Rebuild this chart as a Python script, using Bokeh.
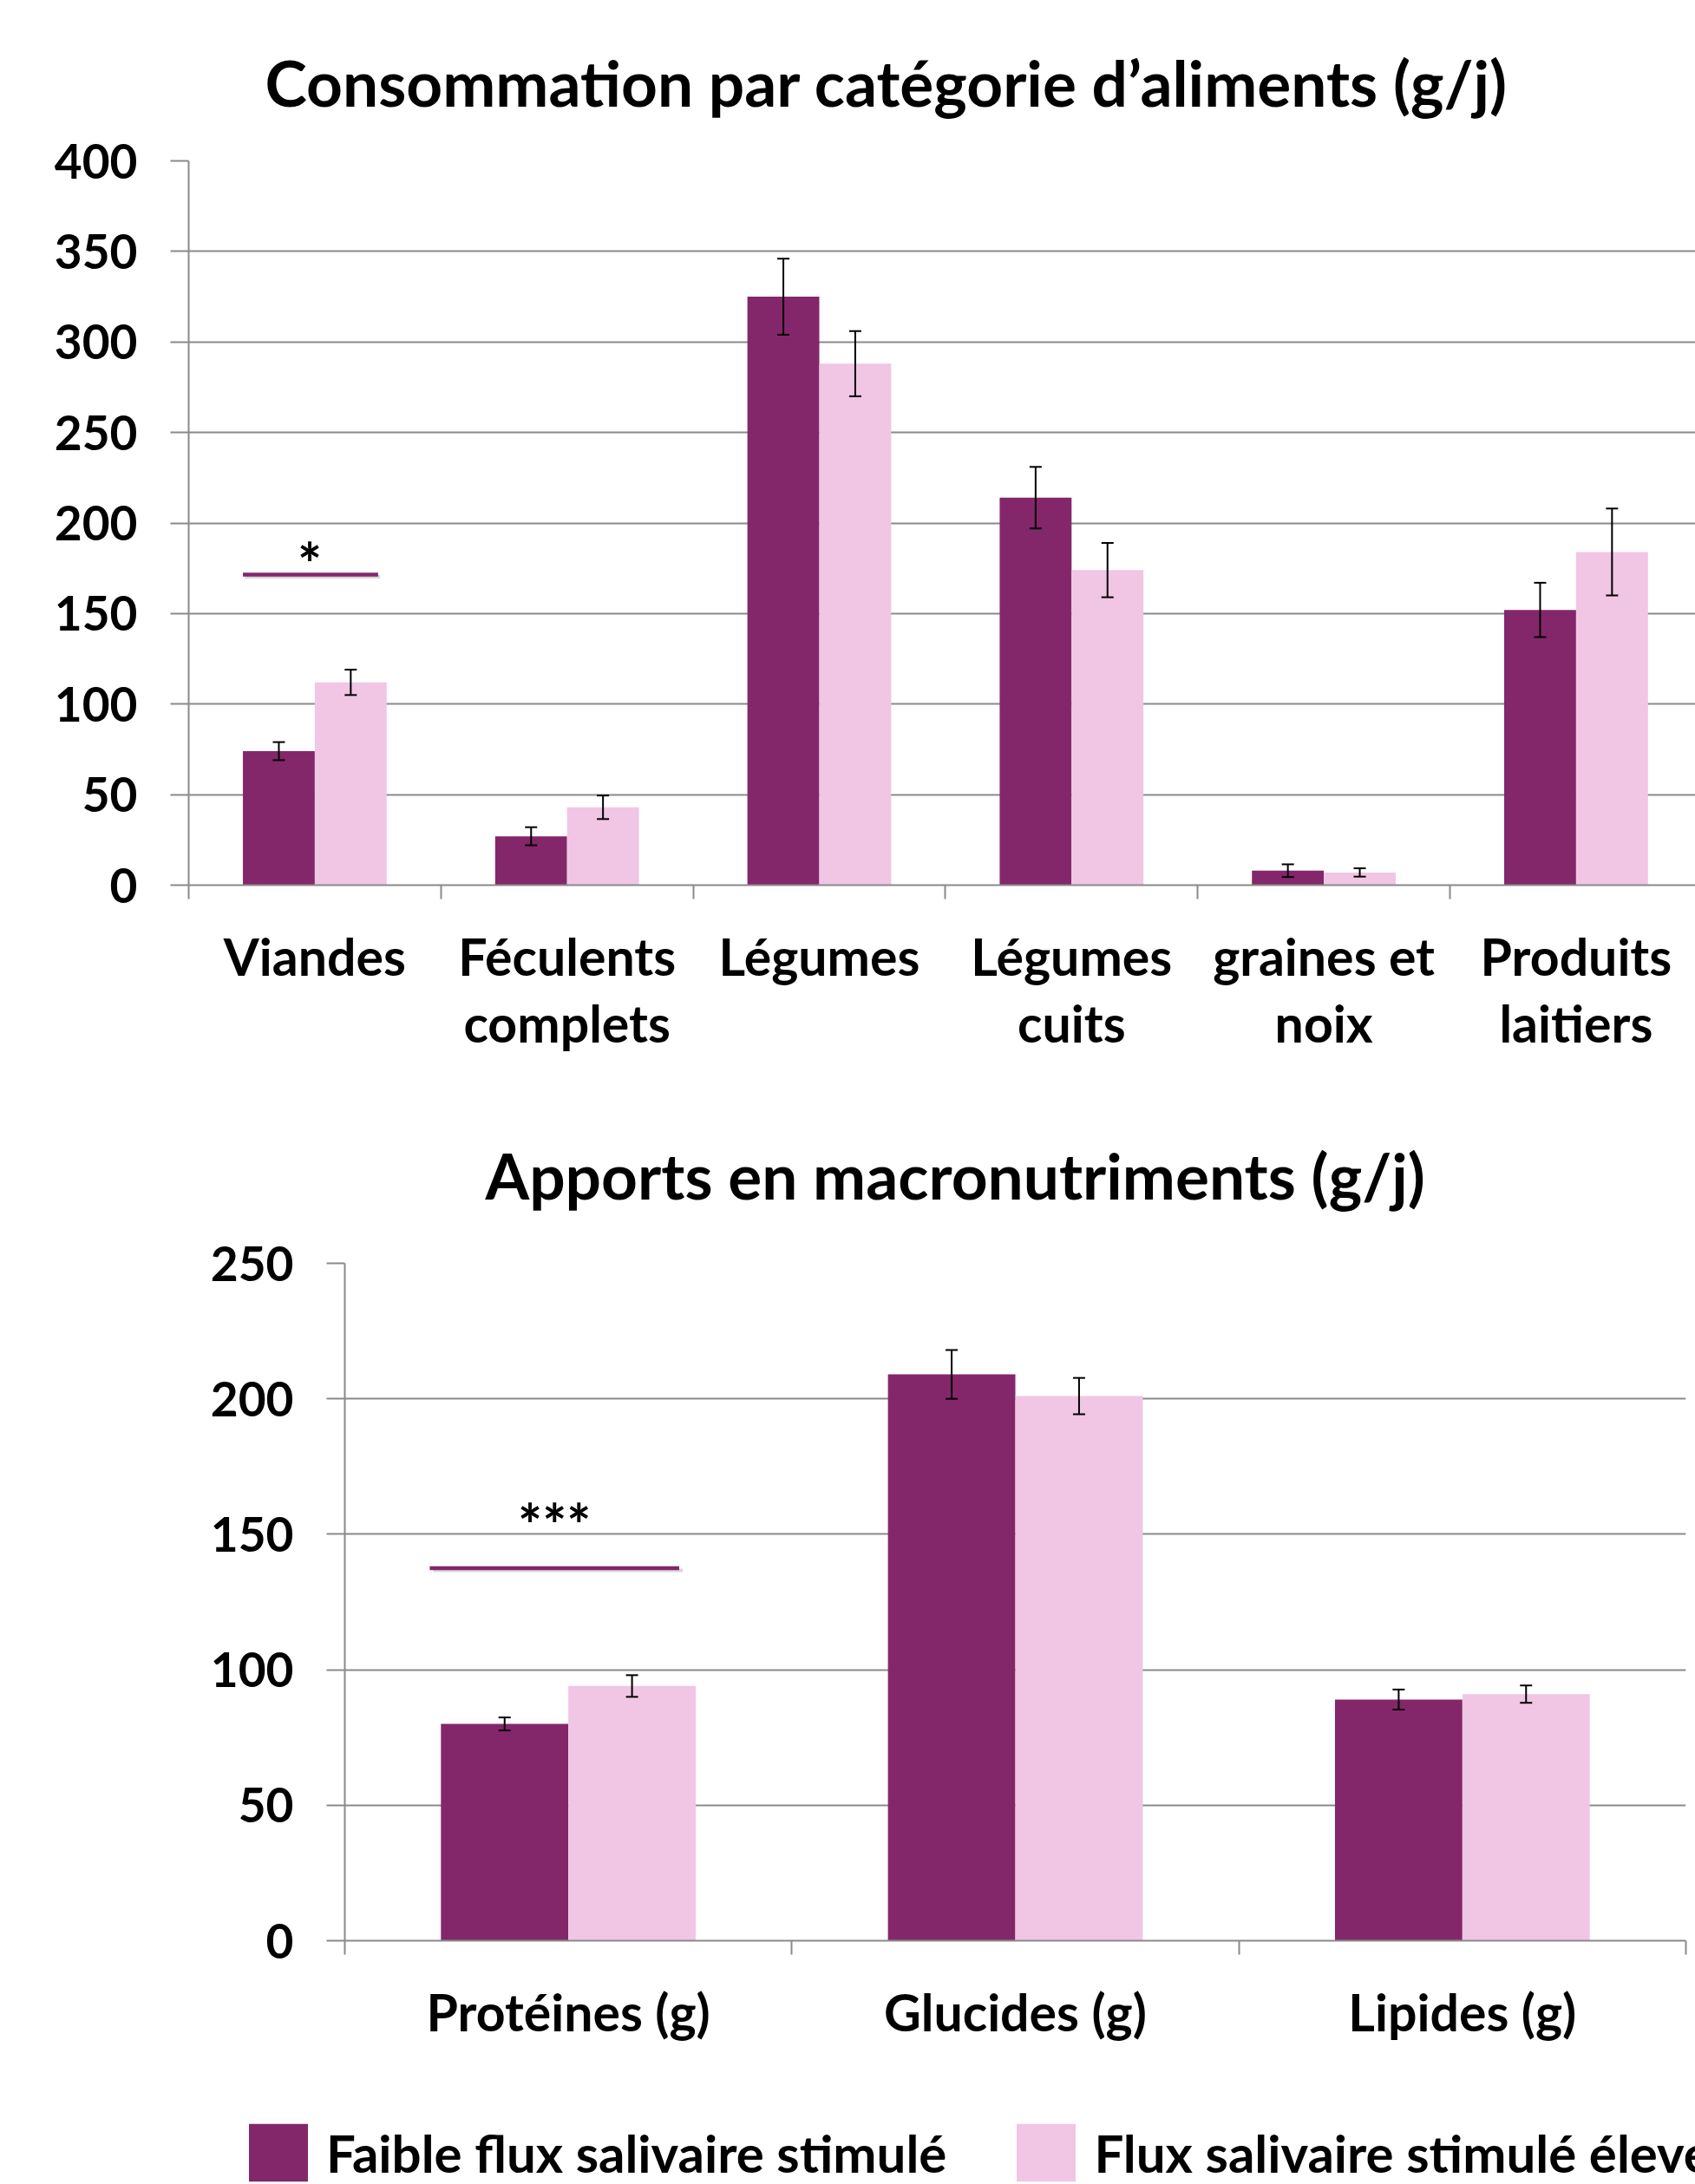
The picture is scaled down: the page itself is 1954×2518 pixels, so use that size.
from bokeh.plotting import figure
from bokeh.models import (Range1d, FixedTicker, ColumnDataSource, Whisker, TeeHead,
                          Legend, LegendItem)
from bokeh.embed import file_html
from bokeh.resources import INLINE
from bokeh.core.properties import value

# ---------------- data ----------------
food_categories = ["Viandes", "Féculents\ncomplets", "Légumes", "Légumes\ncuits",
                   "graines et\nnoix", "Produits\nlaitiers"]
food_low = [74, 27, 325, 214, 8, 152]
food_low_err = [5, 5, 21, 17, 3.5, 15]
food_high = [112, 43, 288, 174, 7, 184]
food_high_err = [7, 6.5, 18, 15, 2.3, 24]
food_yticks = [0, 50, 100, 150, 200, 250, 300, 350, 400]
food_title = "Consommation par catégorie d’aliments (g/j)"
food_sig_level = 171.5
food_sig_text = "*"

macro_categories = ["Protéines (g)", "Glucides (g)", "Lipides (g)"]
macro_low = [80, 209, 89]
macro_low_err = [2.4, 9, 3.7]
macro_high = [94, 201, 91]
macro_high_err = [4, 6.7, 3.2]
macro_yticks = [0, 50, 100, 150, 200, 250]
macro_title = "Apports en macronutriments (g/j)"
macro_sig_level = 137.5
macro_sig_text = "***"

series_labels = ["Faible flux salivaire stimulé", "Flux salivaire stimulé élevé"]

# ---------------- style ----------------
FONT = "Lato"
DARK = "#84276A"
LIGHT = "#F0C6E4"
GRID = "#8A8A8A"
BW = 0.285
W = 1954


def build(cats, low, low_err, high, high_err, yticks, title, height,
          left, right, top, bottom, xend, title_offset, title_standoff,
          sig_level, sig_text, sig_x0, sig_x1, star_dx, star_y, shadow_dy):
    n = len(cats)
    centers = [i + 0.5 for i in range(n)]
    p = figure(width=W, height=height, x_range=Range1d(0, xend),
               y_range=Range1d(yticks[0], yticks[-1]),
               output_backend="svg", toolbar_location=None,
               min_border_left=left, min_border_right=right,
               min_border_top=top, min_border_bottom=bottom)
    p.outline_line_color = None
    p.background_fill_color = "white"
    p.border_fill_color = "white"

    p.title.text = title
    p.title.align = "left"
    p.title.offset = title_offset
    p.title.standoff = title_standoff
    p.title.text_font = FONT
    p.title.text_font_size = "73px"
    p.title.text_font_style = "bold"
    p.title.text_color = "black"

    src_low = ColumnDataSource(dict(x=[c - BW / 2 for c in centers], top=low,
                                    upper=[v + e for v, e in zip(low, low_err)],
                                    lower=[v - e for v, e in zip(low, low_err)]))
    src_high = ColumnDataSource(dict(x=[c + BW / 2 for c in centers], top=high,
                                     upper=[v + e for v, e in zip(high, high_err)],
                                     lower=[v - e for v, e in zip(high, high_err)]))
    p.vbar(x="x", top="top", bottom=0, width=BW, source=src_low,
           fill_color=DARK, line_color=None)
    p.vbar(x="x", top="top", bottom=0, width=BW, source=src_high,
           fill_color=LIGHT, line_color=None)

    for src in (src_low, src_high):
        w = Whisker(base="x", upper="upper", lower="lower", source=src,
                    line_color="black", line_width=2, level="annotation",
                    upper_head=TeeHead(size=14, line_color="black", line_width=2),
                    lower_head=TeeHead(size=14, line_color="black", line_width=2))
        p.add_layout(w)

    # significance marker
    c0 = centers[0]
    p.line(x=[c0 + sig_x0 + 0.008, c0 + sig_x1 + 0.008], y=[sig_level - shadow_dy] * 2,
           line_color="#BDBDBD", line_width=4, line_alpha=0.6)
    p.line(x=[c0 + sig_x0, c0 + sig_x1], y=[sig_level] * 2,
           line_color=DARK, line_width=4.5)
    p.text(x=[c0 + star_dx], y=[star_y], text=[sig_text], text_align="center",
           text_baseline="middle", text_font=value(FONT), text_font_size="66px",
           text_font_style="bold", text_color="black")

    # axes
    p.xgrid.grid_line_color = None
    p.ygrid.ticker = FixedTicker(ticks=yticks)
    p.ygrid.grid_line_color = GRID
    p.ygrid.grid_line_width = 2

    ya = p.yaxis[0]
    ya.ticker = FixedTicker(ticks=yticks)
    ya.axis_line_color = GRID
    ya.axis_line_width = 2
    ya.major_tick_line_color = GRID
    ya.major_tick_line_width = 2
    ya.major_tick_out = 21
    ya.major_tick_in = 0
    ya.minor_tick_line_color = None
    ya.major_label_standoff = 38
    ya.major_label_text_font = FONT
    ya.major_label_text_font_size = "55px"
    ya.major_label_text_font_style = "bold"
    ya.major_label_text_color = "black"

    xa = p.xaxis[0]
    xa.ticker = FixedTicker(ticks=centers, minor_ticks=list(range(n + 1)))
    xa.major_label_overrides = {c: lab for c, lab in zip(centers, cats)}
    xa.axis_line_color = GRID
    xa.axis_line_width = 2
    xa.major_tick_line_color = None
    xa.major_tick_out = 0
    xa.major_tick_in = 0
    xa.minor_tick_line_color = GRID
    xa.minor_tick_line_width = 2
    xa.minor_tick_out = 16
    xa.minor_tick_in = 0
    xa.major_label_standoff = 30
    xa.major_label_text_font = FONT
    xa.major_label_text_font_size = "59px"
    xa.major_label_text_font_style = "bold"
    xa.major_label_text_color = "black"
    xa.major_label_text_line_height = 1.09
    return p


p1 = build(food_categories, food_low, food_low_err, food_high, food_high_err,
           food_yticks, food_title, height=1250,
           left=217, right=0, top=185, bottom=230, xend=1737 / 290.8,
           title_offset=88, title_standoff=94,
           sig_level=food_sig_level, sig_text=food_sig_text,
           sig_x0=-BW, sig_x1=0.251, star_dx=-0.02, star_y=177.5, shadow_dy=1.2)

p2 = build(macro_categories, macro_low, macro_low_err, macro_high,
           macro_high_err, macro_yticks, macro_title, height=1150,
           left=397, right=11, top=206, bottom=163,
           xend=3, title_offset=162, title_standoff=115,
           sig_level=macro_sig_level, sig_text=macro_sig_text,
           sig_x0=-0.31, sig_x1=0.248, star_dx=-0.031,
           star_y=153.6, shadow_dy=0.8)

# legend strip (keys are zero-height bars of the two series)
p3 = figure(width=W, height=118, x_range=Range1d(0, 1), y_range=Range1d(0, 1),
            output_backend="svg", toolbar_location=None, x_axis_type=None,
            y_axis_type=None, min_border=0)
p3.outline_line_color = None
p3.grid.visible = False
k_low = p3.vbar(x=[0.5], top=[0], bottom=0, width=BW, fill_color=DARK, line_color=None)
k_high = p3.vbar(x=[0.5], top=[0], bottom=0, width=BW, fill_color=LIGHT, line_color=None)
legend = Legend(items=[LegendItem(label=series_labels[0], renderers=[k_low]),
                       LegendItem(label=series_labels[1], renderers=[k_high])],
                orientation="horizontal", location=(278, -5),
                glyph_width=85, glyph_height=83, label_height=66, label_standoff=13,
                spacing=72, padding=0, margin=0, border_line_color=None,
                background_fill_alpha=0, label_text_font=FONT,
                label_text_font_size="60px", label_text_font_style="bold",
                label_text_color="black")
p3.add_layout(legend)

open("out.html", "w").write(file_html([p1, p2, p3], INLINE))
